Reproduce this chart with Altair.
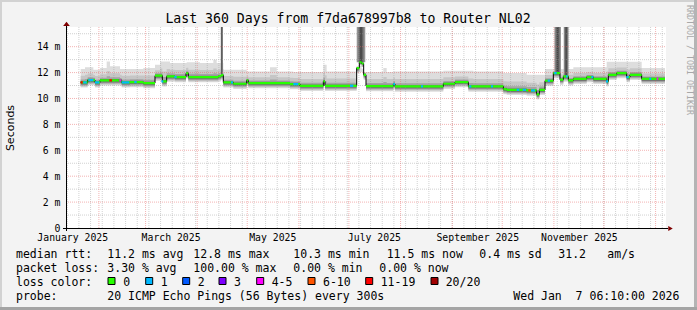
import calendar
import datetime as dt

import altair as alt
import pandas as pd

# ---------------- layout ----------------
W, H = 600, 201          # plot area
OX, OY = 66, 27          # plot origin in the 697x310 picture
PAD_R, PAD_B = 697 - OX - W, 310 - OY - H

# ---------------- data ----------------
START = dt.datetime(2025, 1, 12, 6, 10)
SPAN_DAYS = 360
START_MS = calendar.timegm(START.timetuple()) * 1000


def day_of(t):
    return (t - START).total_seconds() / 86400.0


TITLE = "Last 360 Days from f7da678997b8 to Router NL02"
Y_MAX = 15.52
Y_LABELS = [0, 2, 4, 6, 8, 10, 12, 14]
X_LABEL_DATES = [dt.datetime(2025, m, 16) for m in (1, 3, 5, 7, 9, 11)]

# median rtt (ms) as steps: start day of each step and its value
MED_DAY = [8.8, 13.0, 17.4, 20.4, 33.4, 38.4, 46.4, 53.4, 57.8, 60.4,
           65.4, 72.0, 73.4, 91.4, 93.0, 94.4, 100.4, 108.4, 109.4, 134.4,
           140.4, 154.4, 155.4, 174.4, 176.0, 177.4, 178.6, 180.0, 196.4, 197.4,
           226.4, 233.4, 241.4, 262.4, 264.4, 276.4, 282.4, 284.0, 287.4, 292.4,
           296.4, 298.4, 301.4, 304.4, 312.4, 316.4, 324.4, 325.4, 330.4, 336.4,
           338.4, 345.4]
MED_VAL = [11.24, 11.42, 11.24, 11.40, 11.24, 11.27, 11.19, 11.76, 11.32, 11.70,
           11.65, 11.95, 11.65, 11.72, 11.80, 11.24, 11.14, 11.40, 11.19, 11.11,
           10.98, 11.32, 10.98, 12.35, 12.80, 12.70, 11.83, 10.96, 11.11, 10.93,
           11.14, 11.27, 10.93, 10.72, 10.67, 10.62, 10.32, 10.67, 11.37, 11.96,
           11.45, 11.70, 11.40, 11.52, 11.65, 11.52, 11.32, 11.83, 11.96, 11.65,
           11.83, 11.52]
DATA_END = 359.4

# upper edge of the smoke (ms), as steps
TOP_DAY = [8.8, 11.4, 16.4, 20.4, 24.4, 26.4, 32.4, 46.4, 53.4, 56.4,
           62.4, 72.4, 80.4, 88.4, 90.4, 94.4, 108.4, 122.4, 126.4, 136.4,
           154.4, 156.4, 174.4, 190.4, 192.4, 196.4, 226.4, 244.4, 262.4, 276.4,
           287.4, 304.4, 324.4, 345.4]
TOP_VAL = [12.27, 12.42, 12.22, 12.35, 12.86, 12.48, 12.27, 12.35, 12.61, 12.86,
           12.74, 12.79, 12.74, 12.99, 12.74, 12.22, 12.09, 12.42, 12.09, 12.04,
           12.61, 12.09, 12.04, 12.35, 12.04, 12.09, 12.14, 12.09, 11.96, 11.83,
           12.27, 12.42, 12.83, 12.35]

# smoke columns that run off the top of the graph
SPIKE_START = [92.8, 174.4, 293.0, 298.6]
SPIKE_END = [94.2, 179.6, 297.0, 301.6]
SPIKE_TOP = [25.0, 25.0, 25.0, 25.0]

# loss colouring of the median (start day, end day, loss class)
LOSS_START = [8.8, 10.4, 13.4, 17.4, 26.0, 32.0, 33.4, 41.0, 57.2, 65.0,
              99.0, 136.4, 170.4, 196.4, 213.0, 242.0, 255.0, 270.4, 274.0, 277.4,
              279.0, 289.0, 293.0, 300.0, 315.2, 324.0, 336.2, 350.0, 354.4]
LOSS_END = [10.0, 12.4, 16.4, 20.0, 27.6, 33.2, 38.0, 42.4, 58.4, 66.4,
            100.2, 139.4, 172.4, 197.4, 214.2, 243.2, 256.2, 272.0, 276.0, 278.8,
            281.4, 290.4, 294.4, 301.0, 316.4, 325.2, 337.6, 351.2, 355.4]
LOSS_CAT = ["11-19", "1", "1", "1", "11-19", "4-5", "1", "1", "1", "1",
            "1", "1", "1", "1", "1", "1", "1", "1", "1", "6-10",
            "1", "1", "1", "1", "1", "1", "1", "1", "4-5"]

LOSS_LABELS = ["0", "1", "2", "3", "4-5", "6-10", "11-19", "20/20"]
LOSS_COLORS = ["#26ff00", "#00b8ff", "#0059ff", "#7e00ff",
               "#ff00ff", "#ff5500", "#ff0000", "#a00000"]

NB = "\u00a0"
LEGEND_ROWS = [
    [(16, "median rtt:"), (107.3, "11.2 ms avg"), (193.3, "12.8 ms max"),
     (293.3, "10.3 ms min"), (386.7, "11.5 ms now"), (479.3, "0.4 ms sd"),
     (558.3, "31.2"), (607.3, "am/s")],
    [(16, "packet loss:"), (107.3, "3.30 % avg"), (193.3, "100.00 % max"),
     (293.3, "0.00 % min"), (379.3, "0.00 % now")],
    [(16, "loss color:")],
    [(16, "probe:"), (107.3, "20 ICMP Echo Pings (56 Bytes) every 300s"),
     (513.3, "Wed Jan" + NB + NB + "7 06:10:00 2026")],
]
LEGEND_BASE = [257.5, 271.7, 285.8, 300.0]
SWATCH_X = [108, 145.7, 182.7, 219, 256.7, 308, 365.7, 431]
SWATCH_LABEL_X = [123.3, 160.7, 197.7, 234, 271.7, 323, 380.7, 445.7]

MONO = "DejaVu Sans Mono"

# ---------------- helpers ----------------
assert len(MED_DAY) == len(MED_VAL)
assert len(TOP_DAY) == len(TOP_VAL)
assert len(LOSS_START) == len(LOSS_END) == len(LOSS_CAT)


def step_at(days, vals, d):
    v = vals[0]
    for s, x in zip(days, vals):
        if s <= d + 1e-9:
            v = x
    return v


XS = alt.Scale(domain=[0, SPAN_DAYS], nice=False, zero=False)
YS = alt.Scale(domain=[0, Y_MAX], nice=False, zero=False)
label_days = [day_of(t) for t in X_LABEL_DATES]
XAX = alt.Axis(
    values=label_days,
    labelExpr=f"utcFormat({START_MS} + datum.value * 86400000, '%B %Y')",
    grid=False, domain=False, ticks=False, title=None,
    labelFont=MONO, labelFontSize=9.8, labelColor="#000",
    labelBaseline="alphabetic", labelPadding=12.6,
    labelOverlap=False, labelFlush=False)
YAX = alt.Axis(
    values=Y_LABELS,
    labelExpr="datum.value == 0 ? '0" + NB * 3 + "' : datum.value + ' m'",
    grid=False, domain=False, ticks=False,
    labelFont=MONO, labelFontSize=9.8, labelColor="#000", labelPadding=6,
    labelOverlap=False, labelFlush=False,
    title="Seconds", titleFont="DejaVu Sans", titleFontSize=11,
    titleFontWeight="normal", titleColor="#000", titleAngle=270,
    titleX=-56, titleY=H / 2, titleAlign="center", titleBaseline="middle")


def X(field):
    return alt.X(field, scale=XS, axis=XAX)


def Y(field):
    return alt.Y(field, scale=YS, axis=YAX, stack=None)


bps = sorted(set(MED_DAY) | set(TOP_DAY))
bps = [b for b in bps if b < DATA_END] + [DATA_END]
pieces = []
for a in bps[:-1]:
    pieces.append((a, step_at(MED_DAY, MED_VAL, a), step_at(TOP_DAY, TOP_VAL, a)))
pieces.append((DATA_END, pieces[-1][1], pieces[-1][2]))

# smoke shades: (colour, offset below median, fraction of spread above, fixed offset above)
SHADES = [("#dddddd", -0.40, 1.0, None),
          ("#c6c6c6", -0.32, 0.5, None),
          ("#a4a4a4", -0.24, 0.22, None),
          ("#747474", -0.16, None, 0.10)]

layers = []
for col, lo_off, frac, hi_off in SHADES:
    df = pd.DataFrame([{
        "d": a, "lo": m + lo_off,
        "hi": (m + frac * (t - m)) if frac is not None else m + hi_off,
    } for a, m, t in pieces])
    layers.append(alt.Chart(df).mark_area(interpolate="step-after", color=col)
                  .encode(x=X("d:Q"), y=Y("lo:Q"), y2="hi:Q"))

# spikes
spike_df = pd.DataFrame({
    "d0": SPIKE_START, "d1": SPIKE_END,
    "lo": [step_at(MED_DAY, MED_VAL, (a + b) / 2) for a, b in zip(SPIKE_START, SPIKE_END)],
    "hi": SPIKE_TOP})
grad = alt.LinearGradient(gradient="linear", x1=0, x2=1, y1=0, y2=0, stops=[
    alt.GradientStop(color="#a8a8a8", offset=0),
    alt.GradientStop(color="#404040", offset=0.5),
    alt.GradientStop(color="#a8a8a8", offset=1)])
layers.append(alt.Chart(spike_df).mark_rect(clip=True, color=grad).encode(
    x=X("d0:Q"), x2="d1:Q", y=Y("lo:Q"), y2="hi:Q"))

# grid
mondays, months = [], []
t = dt.datetime(2025, 1, 13)
while day_of(t) < SPAN_DAYS:
    mondays.append(day_of(t))
    t += dt.timedelta(days=7)
for yy, mm in [(2025, m) for m in range(2, 13)] + [(2026, 1)]:
    months.append(day_of(dt.datetime(yy, mm, 1)))
minor_y = [v for v in range(1, 16) if v % 2]
major_y = list(range(2, 15, 2))

MINOR = dict(color="#9a9a9a", opacity=0.45, strokeDash=[1, 1], strokeWidth=1)
MAJOR = dict(color="#e86a6a", opacity=0.5, strokeDash=[1, 1], strokeWidth=1)
layers.append(alt.Chart(pd.DataFrame({"d": mondays})).mark_rule(**MINOR).encode(
    x=X("d:Q"), y=alt.value(0), y2=alt.value(H)))
layers.append(alt.Chart(pd.DataFrame({"v": minor_y})).mark_rule(**MINOR).encode(
    y=Y("v:Q"), x=alt.value(0), x2=alt.value(W)))
layers.append(alt.Chart(pd.DataFrame({"d": months})).mark_rule(**MAJOR).encode(
    x=X("d:Q"), y=alt.value(0), y2=alt.value(H)))
layers.append(alt.Chart(pd.DataFrame({"v": major_y})).mark_rule(**MAJOR).encode(
    y=Y("v:Q"), x=alt.value(0), x2=alt.value(W)))

# median: black step line, then loss-coloured band
med_line = pd.DataFrame({"d": MED_DAY + [DATA_END], "m": MED_VAL + [MED_VAL[-1]]})
layers.append(alt.Chart(med_line).mark_line(interpolate="step-after", color="#000",
                                            strokeWidth=1).encode(
    x=X("d:Q"), y=Y("m:Q")))
band = pd.DataFrame({"d": MED_DAY + [DATA_END],
                     "lo": [v - 0.085 for v in MED_VAL + [MED_VAL[-1]]],
                     "hi": [v + 0.085 for v in MED_VAL + [MED_VAL[-1]]]})
layers.append(alt.Chart(band).mark_area(interpolate="step-after", color=LOSS_COLORS[0]).encode(
    x=X("d:Q"), y=Y("lo:Q"), y2="hi:Q"))
loss_df = pd.DataFrame({
    "d0": LOSS_START, "d1": LOSS_END, "cat": LOSS_CAT,
    "m": [step_at(MED_DAY, MED_VAL, (a + b) / 2) for a, b in zip(LOSS_START, LOSS_END)]})
loss_df["lo"] = loss_df["m"] - 0.085
loss_df["hi"] = loss_df["m"] + 0.085
layers.append(alt.Chart(loss_df).mark_rect().encode(
    x=X("d0:Q"), x2="d1:Q", y=Y("lo:Q"), y2="hi:Q",
    color=alt.Color("cat:N", scale=alt.Scale(domain=LOSS_LABELS, range=LOSS_COLORS),
                    legend=None)))

ONE = pd.DataFrame({"a": [0]})

# axes lines and arrows
layers.append(alt.Chart(ONE).mark_rule(color="#000", strokeWidth=1).encode(
    x=alt.value(-3), x2=alt.value(W + 2), y=alt.value(H + 0.5)))
layers.append(alt.Chart(ONE).mark_rule(color="#000", strokeWidth=1).encode(
    x=alt.value(0.5), y=alt.value(H + 3), y2=alt.value(-4)))
layers.append(alt.Chart(ONE).mark_point(shape="M-1,0.65L0,-0.65L1,0.65Z", filled=True,
                                        opacity=1, color="#7f0000", size=45).encode(
    x=alt.value(0.5), y=alt.value(-3.1)))
layers.append(alt.Chart(ONE).mark_point(shape="M-0.9,-1L0.9,0L-0.9,1Z", filled=True,
                                        opacity=1, color="#7f0000", size=25).encode(
    x=alt.value(W + 4.5), y=alt.value(H + 0.5)))


# texts
def text_layer(x, y, s, size, **kw):
    return alt.Chart(ONE).mark_text(text=s, fontSize=size, **kw).encode(
        x=alt.value(x), y=alt.value(y))


layers.append(text_layer(348 - OX, 23.3 - OY, TITLE, 13.2, font=MONO, align="center",
                         baseline="alphabetic", color="#000"))
layers.append(text_layer(688.5 - OX, 60 - OY, "RRDTOOL / TOBI OETIKER", 8.3, font=MONO,
                         align="center", baseline="middle", angle=90, color="#a8a8a8"))
for row, base in zip(LEGEND_ROWS, LEGEND_BASE):
    for x, s in row:
        layers.append(text_layer(x - OX, base - OY, s, 11.5, font=MONO, align="left",
                                 baseline="alphabetic", color="#000"))
for sx, lx, lab, col in zip(SWATCH_X, SWATCH_LABEL_X, LOSS_LABELS, LOSS_COLORS):
    layers.append(alt.Chart(ONE).mark_rect(color=col, stroke="#000", strokeWidth=1).encode(
        x=alt.value(sx - OX), x2=alt.value(sx + 7 - OX),
        y=alt.value(277.5 - OY), y2=alt.value(284.5 - OY)))
    layers.append(text_layer(lx - OX, LEGEND_BASE[2] - OY, lab, 11.5, font=MONO,
                             align="left", baseline="alphabetic", color="#000"))

# picture border
for x0, x1, y0, y1, col in [(-OX, W + PAD_R, -OY, -OY + 2, "#d2d2d2"),
                            (-OX, -OX + 2, -OY, H + PAD_B, "#d2d2d2"),
                            (W + PAD_R - 3, W + PAD_R, -OY, H + PAD_B, "#b4b4b4"),
                            (-OX, W + PAD_R, H + PAD_B - 3, H + PAD_B, "#a4a4a4")]:
    layers.append(alt.Chart(ONE).mark_rect(color=col).encode(
        x=alt.value(x0), x2=alt.value(x1), y=alt.value(y0), y2=alt.value(y1)))

chart = alt.layer(*layers).properties(
    width=W, height=H,
    padding={"left": OX, "top": OY, "right": PAD_R, "bottom": PAD_B},
    autosize=alt.AutoSizeParams(type="none"),
    background="#f3f3f3",
).configure_view(fill="white", strokeWidth=0)

chart.save("out.html", embed_options={"renderer": "svg", "actions": False})
